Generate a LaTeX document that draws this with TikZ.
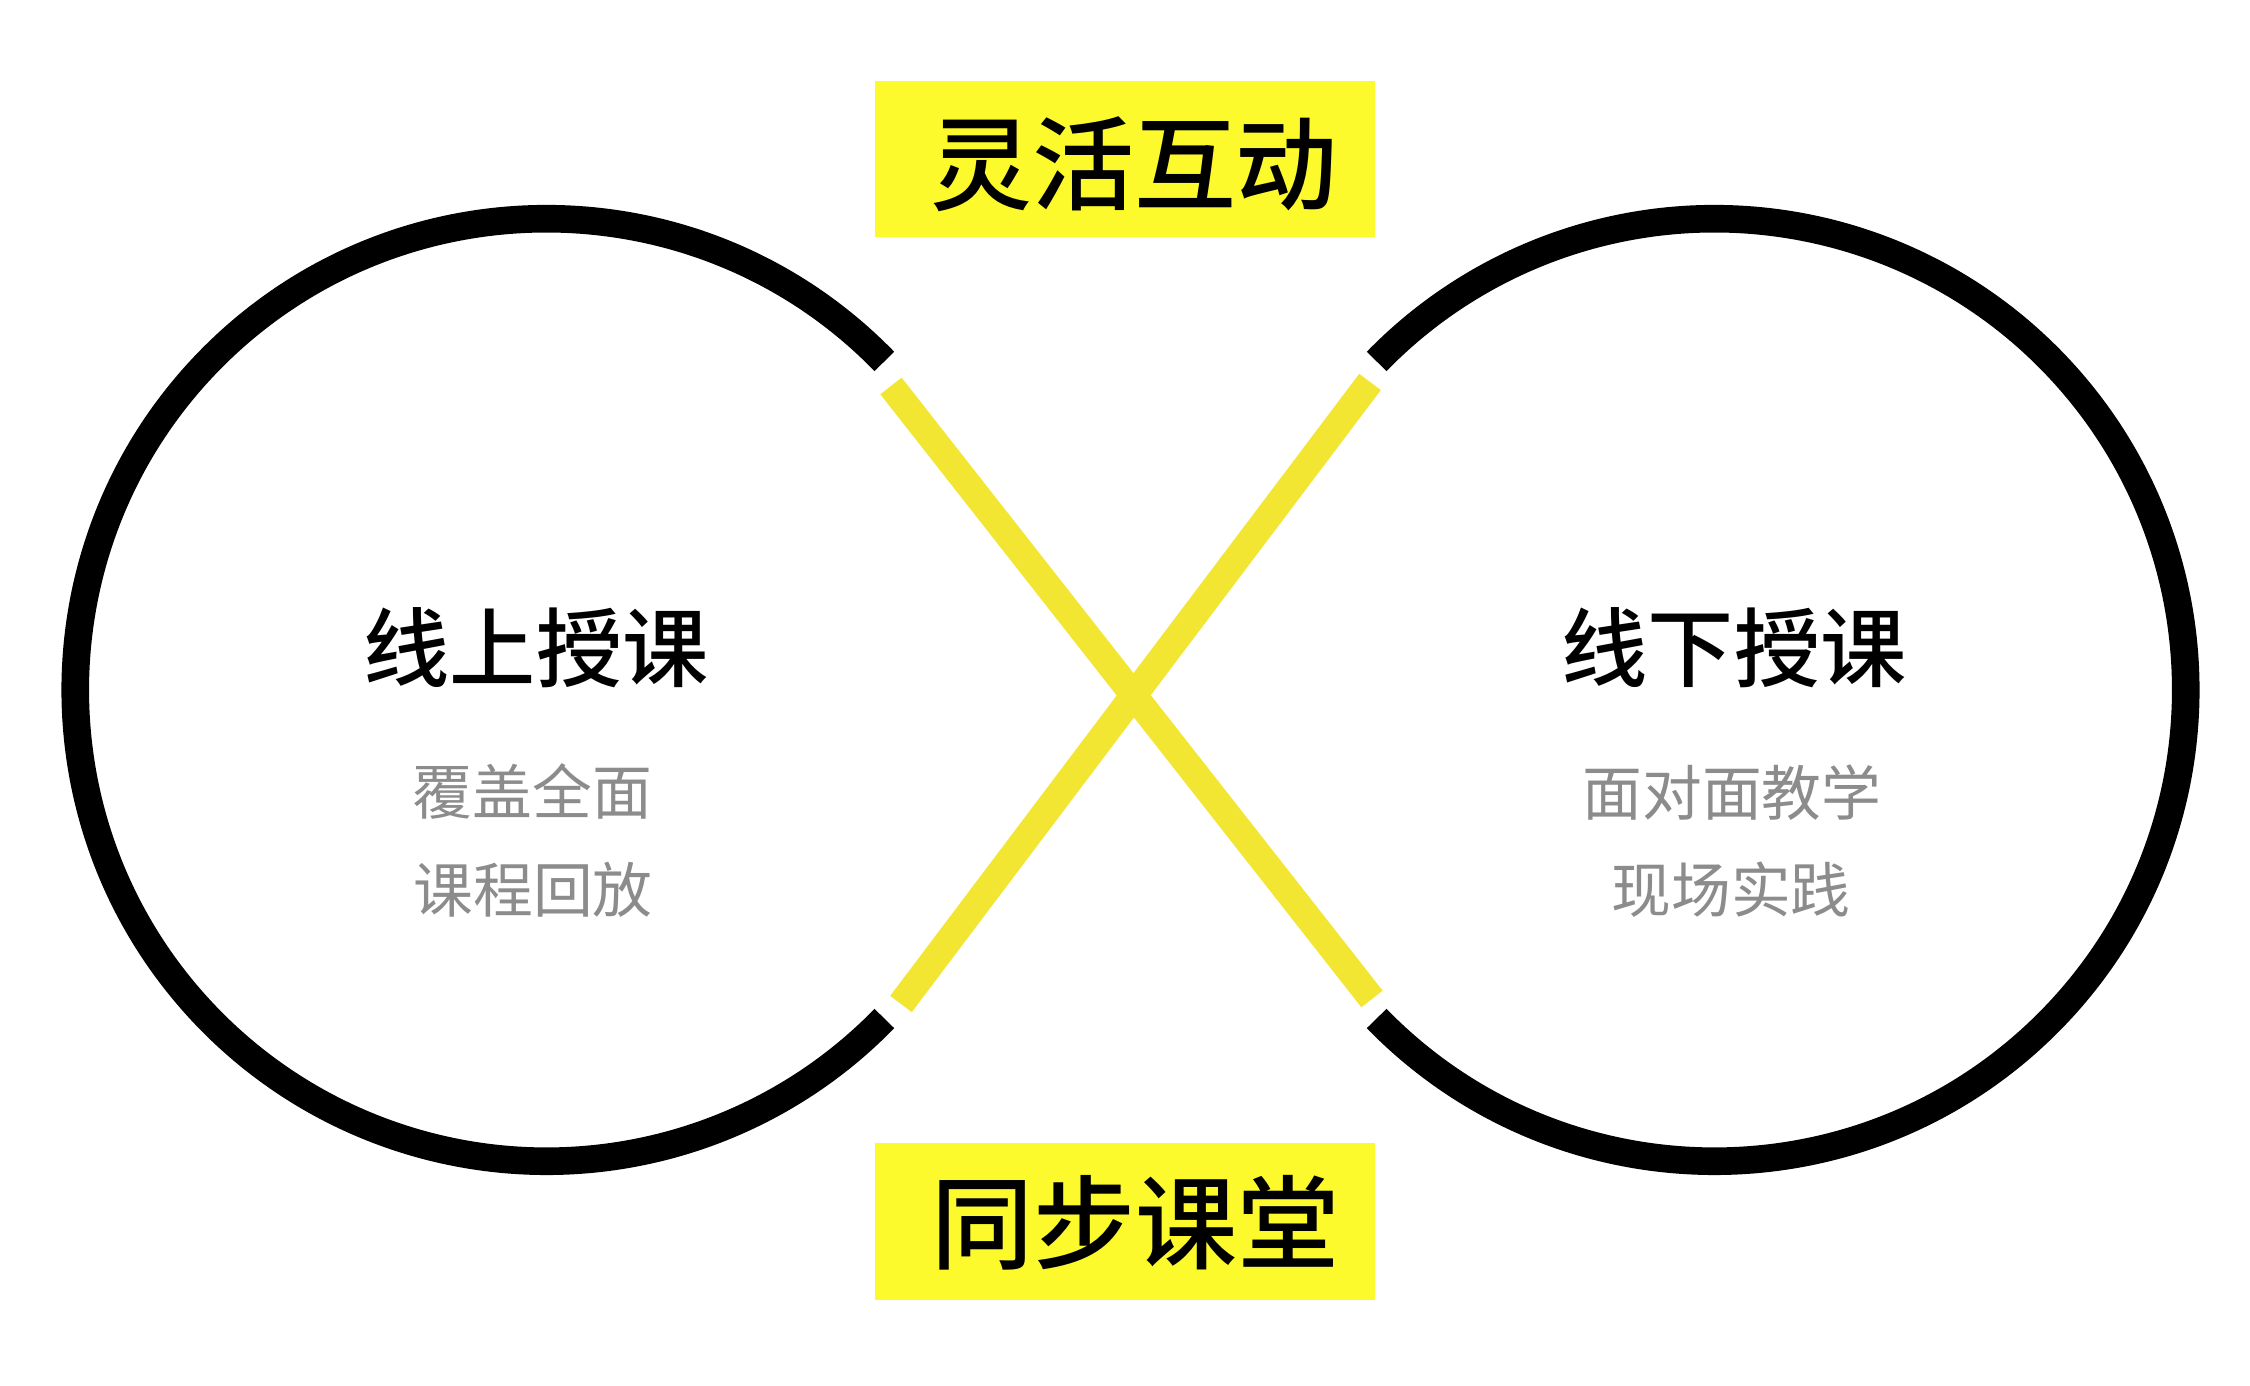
\documentclass[tikz,border=0pt]{standalone}
\usepackage{fontspec}
\usepackage{tikz}
\setmainfont{Noto Sans CJK SC}
\newfontfamily\cjkmed{Noto Sans CJK SC}[UprightFont={* Medium}]

\definecolor{boxyellow}{RGB}{252,249,45}
\definecolor{lineyellow}{RGB}{242,230,50}
\definecolor{subgray}{RGB}{140,140,140}

\tikzset{
	ring/.style={line width=0.276cm, black},
	cross/.style={line width=0.27cm, lineyellow},
	tagbox/.style={fill=boxyellow, minimum width=5cm, minimum height=1.56cm, inner sep=0pt},
	tagtext/.style={font=\cjkmed\fontsize{29pt}{29pt}\selectfont, inner sep=0pt},
	headtext/.style={font=\cjkmed\fontsize{24.5pt}{24.5pt}\selectfont, inner sep=0pt},
	subtext/.style={text=subgray, font=\fontsize{17pt}{17pt}\selectfont, inner sep=0pt}
}

\begin{document}
\begin{tikzpicture}[x=0.01cm, y=0.01cm]
		\fill[white] (0,0) rectangle (2250,1386);
		\useasboundingbox (0,0) rectangle (2250,1386);

		% two open rings
		\coordinate (lc) at (546.5,696);
		\coordinate (rc) at (1714.5,696);
		\draw[ring] ([shift={(44.2:4.71cm)}]lc) arc[start angle=44.2, end angle=315.8, radius=4.71cm];
		\draw[ring] ([shift={(-135.8:4.71cm)}]rc) arc[start angle=-135.8, end angle=135.8, radius=4.71cm];

		% yellow cross
		\coordinate (a1) at (891,1000);
		\coordinate (a2) at (1372,387);
		\coordinate (b1) at (1370,1004);
		\coordinate (b2) at (901,382);
		\draw[cross] (a1) -- (a2);
		\draw[cross] (b1) -- (b2);

		% tags
		\node[tagbox] (topbox) at (1125,1227) {};
		\node[tagtext] (flex) at (1134,1222) {灵活互动};
		\node[tagbox] (botbox) at (1125,164.5) {};
		\node[tagtext] (sync) at (1135.5,163) {同步课堂};

		% ring texts
		\node[headtext] (online) at (536,738) {线上授课};
		\node[headtext] (offline) at (1734,738) {线下授课};
		\foreach \n/\x/\y/\t in{
				l1/532.5/594/覆盖全面,
				l2/533/496/课程回放,
				r1/1732/593/面对面教学,
				r2/1731/496/现场实践
		}{
		\node[subtext] (\n) at (\x,\y) {\t};
		}
\end{tikzpicture}
\end{document}
